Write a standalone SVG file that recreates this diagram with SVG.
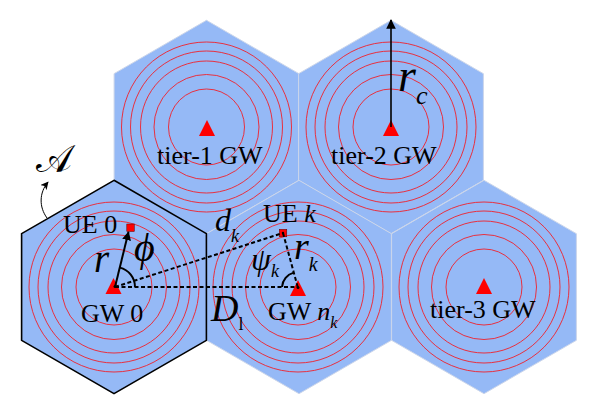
<svg xmlns="http://www.w3.org/2000/svg" width="598" height="418" viewBox="0 0 598 418">
<defs>
<style>
.hex{fill:#95b9f6;stroke:#ccd6ea;stroke-width:1}
.ring{fill:none;stroke:#f0202a;stroke-width:0.9}
.gw{fill:#ff0000}
.ue{fill:#ff0000;stroke:#5a0000;stroke-width:0.5}
.lbl{font-family:"Liberation Serif","Times New Roman",serif;font-size:26px;fill:#000}
.m{font-family:"Liberation Serif","Times New Roman",serif;font-style:italic;fill:#000}
.dash{fill:none;stroke:#000;stroke-width:2;stroke-dasharray:4 2.5}
.solid{fill:none;stroke:#000;stroke-width:2}
</style>
<polygon id="hexshape" points="0,-106.7 92.4,-53.35 92.4,53.35 0,106.7 -92.4,53.35 -92.4,-53.35"/>
<g id="rings">
<circle class="ring" r="38"/>
<circle class="ring" r="52.5"/>
<circle class="ring" r="66"/>
<circle class="ring" r="76"/>
<circle class="ring" r="85"/>
</g>
<polygon id="tri" points="0,-8 8,8 -8,8"/>
<marker id="ah" viewBox="0 0 10 10" refX="9" refY="5" markerWidth="4.5" markerHeight="4.5" orient="auto" markerUnits="strokeWidth">
<path d="M0,0 L10,5 L0,10 Z" fill="#000"/>
</marker>
<marker id="ahc" viewBox="0 0 10 10" refX="9" refY="5" markerWidth="6" markerHeight="6" orient="auto" markerUnits="strokeWidth">
<path d="M0,0 L10,5 L0,10 Z" fill="#000"/>
</marker>
<marker id="ahs" viewBox="0 0 10 10" refX="9" refY="5" markerWidth="8" markerHeight="8" orient="auto" markerUnits="strokeWidth">
<path d="M0,0 L10,5 L0,10 L2.5,5 Z" fill="#000"/>
</marker>
</defs>
<rect width="598" height="418" fill="#fff"/>

<g id="tier1">
<use href="#hexshape" class="hex" x="206.5" y="127"/>
<use href="#rings" x="206.5" y="127"/>
<use href="#tri" class="gw" x="207" y="128"/>
<text class="lbl" x="157" y="164">tier-1 GW</text>
</g>

<g id="tier2">
<use href="#hexshape" class="hex" x="391" y="127"/>
<use href="#rings" x="391" y="127"/>
<use href="#tri" class="gw" x="391" y="128"/>
<text class="lbl" x="331" y="164">tier-2 GW</text>
</g>

<g id="gwnk">
<use href="#hexshape" class="hex" x="299" y="287"/>
<use href="#rings" x="298" y="287"/>
<use href="#tri" class="gw" x="298" y="288"/>
<text class="lbl" x="268" y="320">GW <tspan class="m">n</tspan><tspan class="m" font-size="16" dy="8">k</tspan></text>
</g>

<g id="tier3">
<use href="#hexshape" class="hex" x="484" y="287"/>
<use href="#rings" x="484" y="287"/>
<use href="#tri" class="gw" x="484" y="286"/>
<text class="lbl" x="430" y="318">tier-3 GW</text>
</g>

<g id="gw0">
<use href="#hexshape" x="114" y="287" fill="#95b9f6" stroke="#000" stroke-width="1.6"/>
<use href="#rings" x="114" y="287"/>
<use href="#tri" class="gw" x="113.5" y="286"/>
<text class="lbl" x="81" y="321.5">GW 0</text>
</g>

<g id="ue0">
<rect class="ue" x="126.8" y="224" width="7.5" height="7.5"/>
<text class="lbl" x="63" y="232.5">UE 0</text>
</g>

<g id="uek">
<rect class="ue" x="279.3" y="229.3" width="7.5" height="7.5"/>
<text class="lbl" x="263" y="222">UE <tspan class="m">k</tspan></text>
</g>

<g id="connectors">
<line class="dash" x1="115" y1="287" x2="297" y2="287"/>
<line class="dash" x1="115" y1="287" x2="283" y2="233"/>
<line class="dash" x1="283" y1="233" x2="298" y2="288"/>
<line class="solid" x1="115" y1="287" x2="128.5" y2="232" marker-end="url(#ah)"/>
<line x1="391" y1="127" x2="391" y2="20" stroke="#000" stroke-width="1.6" marker-end="url(#ahc)"/>
<path class="solid" d="M135,287 A20,20 0 0 0 119.8,267.6"/>
<path class="solid" d="M282,287 A16,16 0 0 1 293.8,272.6"/>
<path d="M47,218 C39,207 39,193 48,182" fill="none" stroke="#000" stroke-width="1" marker-end="url(#ahs)"/>
<circle cx="115" cy="286.5" r="1.5" fill="#000"/>
<circle cx="298" cy="287.5" r="1.5" fill="#000"/>
<circle cx="283" cy="233" r="1.2" fill="#000"/>
</g>

<g id="labels">
<text x="36" y="172" font-size="38" font-family="'DejaVu Serif','Liberation Serif',serif" fill="#000">𝒜</text>
<text class="m" x="94" y="272" font-size="39">r</text>
<text class="m" x="134" y="261" font-size="40">ϕ</text>
<text class="m" x="215" y="231" font-size="32">d<tspan font-size="18" dy="11">k</tspan></text>
<text class="m" x="294" y="258.5" font-size="38">r<tspan font-size="20" dy="12">k</tspan></text>
<text class="m" x="251" y="270" font-size="32">ψ<tspan font-size="18" dy="7">k</tspan></text>
<text class="m" x="211" y="320.5" font-size="38">D<tspan font-style="normal" font-size="18" dy="9">l</tspan></text>
<text class="m" x="398" y="91" font-size="46">r<tspan font-size="26" dy="13">c</tspan></text>
</g>
</svg>
